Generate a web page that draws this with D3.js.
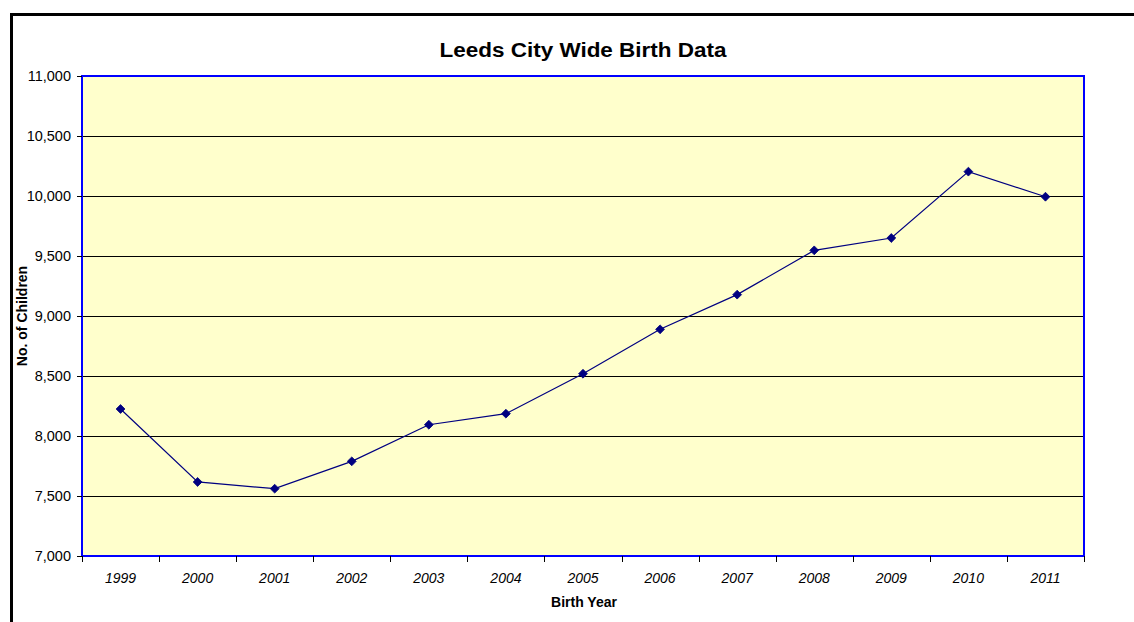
<!DOCTYPE html>
<html>
<head>
<meta charset="utf-8">
<script src="https://cdn.jsdelivr.net/npm/d3@7"></script>
<style>
  body { margin: 0; background: #fff; }
  text { font-family: "Liberation Sans", Arial, sans-serif; }
</style>
</head>
<body>
<script>
// data
var years = ["1999", "2000", "2001", "2002", "2003", "2004", "2005",
             "2006", "2007", "2008", "2009", "2010", "2011"];
var births = [8225, 7617, 7561, 7789, 8094, 8186, 8519,
              8889, 9178, 9547, 9650, 10203, 9994];
var yTicks = [7000, 7500, 8000, 8500, 9000, 9500, 10000, 10500, 11000];

var W = 1134, H = 622;
var plot = {left: 82, top: 76, right: 1084, bottom: 556};

var svg = d3.select("body").append("svg")
    .attr("width", W)
    .attr("height", H);

// outer chart border
svg.append("rect")
    .attr("x", 11.5).attr("y", 14.5)
    .attr("width", W + 20).attr("height", H + 20)
    .attr("fill", "#fff")
    .attr("stroke", "#000")
    .attr("stroke-width", 3);

var x = d3.scaleBand()
    .domain(years)
    .range([plot.left, plot.right]);

var y = d3.scaleLinear()
    .domain([7000, 11000])
    .range([plot.bottom, plot.top]);

// plot area
svg.append("rect")
    .attr("x", plot.left).attr("y", plot.top)
    .attr("width", plot.right - plot.left)
    .attr("height", plot.bottom - plot.top)
    .attr("fill", "#FFFFCC");

// gridlines
svg.append("g")
  .selectAll("line")
  .data(yTicks.slice(1, -1))
  .join("line")
    .attr("x1", plot.left).attr("x2", plot.right)
    .attr("y1", function(d) { return Math.round(y(d)) + 0.5; })
    .attr("y2", function(d) { return Math.round(y(d)) + 0.5; })
    .attr("stroke", "#000")
    .attr("stroke-width", 1);

// plot border
svg.append("rect")
    .attr("x", plot.left).attr("y", plot.top)
    .attr("width", plot.right - plot.left)
    .attr("height", plot.bottom - plot.top)
    .attr("fill", "none")
    .attr("stroke", "#0000FF")
    .attr("stroke-width", 2);

// y axis
var yAxis = svg.append("g")
    .attr("transform", "translate(" + plot.left + ",0)")
    .call(d3.axisLeft(y).tickValues(yTicks).tickSize(5).tickPadding(6)
      .tickFormat(d3.format(",")));
yAxis.select(".domain").remove();
yAxis.selectAll("text").attr("font-size", "14.5px").attr("fill", "#000")
    .style("font-family", "'Liberation Sans', Arial, sans-serif");
yAxis.selectAll("line").attr("stroke", "#000");

// x axis ticks at category boundaries
var bounds = years.map(function(d) { return x(d); }).concat([plot.right]);
svg.append("g")
  .selectAll("line")
  .data(bounds)
  .join("line")
    .attr("x1", function(d) { return Math.round(d) + 0.5; })
    .attr("x2", function(d) { return Math.round(d) + 0.5; })
    .attr("y1", plot.bottom).attr("y2", plot.bottom + 6)
    .attr("stroke", "#000");

svg.append("g")
  .selectAll("text")
  .data(years)
  .join("text")
    .attr("x", function(d) { return x(d) + x.bandwidth() / 2; })
    .attr("y", 583)
    .attr("text-anchor", "middle")
    .attr("font-size", "14px")
    .attr("font-style", "italic")
    .text(function(d) { return d; });

// line
var line = d3.line()
    .x(function(d, i) { return x(years[i]) + x.bandwidth() / 2; })
    .y(function(d) { return y(d); });

svg.append("path")
    .datum(births)
    .attr("d", line)
    .attr("fill", "none")
    .attr("stroke", "#000080")
    .attr("stroke-width", 1.2);

svg.append("g")
  .selectAll("path")
  .data(births)
  .join("path")
    .attr("transform", function(d, i) {
      return "translate(" + (x(years[i]) + x.bandwidth() / 2) + "," + y(d) + ")";
    })
    .attr("d", d3.symbol().type(d3.symbolDiamond2).size(50))
    .attr("fill", "#000080")
    .attr("stroke", "#000080")
    .attr("stroke-width", 0.8);

// titles
svg.append("text")
    .attr("x", (plot.left + plot.right) / 2)
    .attr("y", 56.5)
    .attr("text-anchor", "middle")
    .attr("font-size", "20px")
    .attr("font-weight", "bold")
    .attr("textLength", 287)
    .attr("lengthAdjust", "spacingAndGlyphs")
    .text("Leeds City Wide Birth Data");

svg.append("text")
    .attr("x", 584)
    .attr("y", 606.5)
    .attr("text-anchor", "middle")
    .attr("font-size", "14px")
    .attr("font-weight", "bold")
    .text("Birth Year");

svg.append("text")
    .attr("transform", "translate(27," + (plot.top + plot.bottom) / 2 + ") rotate(-90)")
    .attr("text-anchor", "middle")
    .attr("font-size", "14px")
    .attr("font-weight", "bold")
    .text("No. of Children");
</script>
</body>
</html>
